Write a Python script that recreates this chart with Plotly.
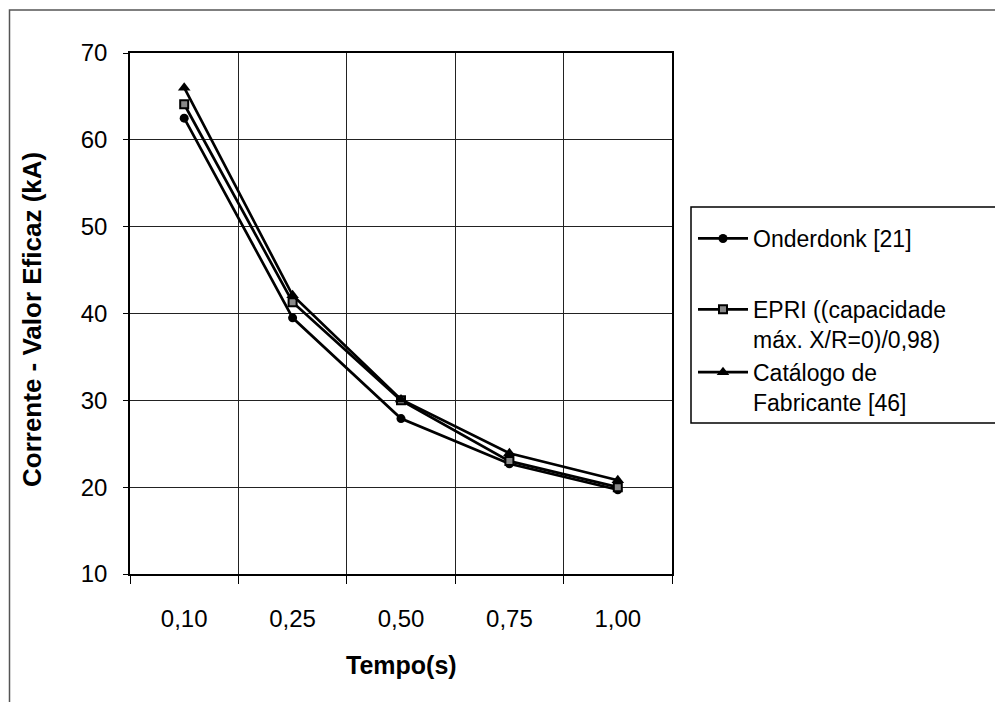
import plotly.graph_objects as go

categories = ["0,10", "0,25", "0,50", "0,75", "1,00"]
onderdonk = [62.5, 39.5, 27.9, 22.7, 19.7]
epri = [64.1, 41.3, 30.0, 23.0, 20.0]
catalogo = [66.0, 42.1, 30.1, 23.9, 20.8]

series_names = ["Onderdonk [21]", "EPRI ((capacidade<br>máx. X/R=0)/0,98)", "Catálogo de<br>Fabricante [46]"]

W, H = 995, 702
L, R, T, B = 130, 323, 53, 128
PW, PH = W - L - R, H - T - B

def px_x(x):
    return (x - L) / PW

def px_y(y):
    return 1 - (y - T) / PH

FONT = "Liberation Sans, Arial, sans-serif"

fig = go.Figure()
fig.add_trace(go.Scatter(
    x=categories, y=onderdonk, name=series_names[0], mode="lines+markers",
    line=dict(color="black", width=2.7),
    marker=dict(symbol="circle", size=9, color="black"),
    legendgroup="g1",
))
fig.add_trace(go.Scatter(
    x=categories, y=epri, name=series_names[1], mode="lines+markers",
    line=dict(color="black", width=2.7),
    marker=dict(symbol="square", size=8, color="#888888", line=dict(color="black", width=2)),
    legendgroup="g2",
))
fig.add_trace(go.Scatter(
    x=categories, y=catalogo, name=series_names[2], mode="lines+markers",
    line=dict(color="black", width=2.7),
    marker=dict(symbol="triangle-up", size=11, color="black"),
    legendgroup="g2",
))

fig.update_layout(
    width=W, height=H,
    margin=dict(l=L, r=R, t=T, b=B),
    paper_bgcolor="white", plot_bgcolor="white",
    font=dict(family=FONT, color="black", size=22),
    showlegend=True,
    legend=dict(
        x=px_x(693), y=px_y(217), xanchor="left", yanchor="top",
        font=dict(family=FONT, size=23, color="black"),
        bgcolor="rgba(0,0,0,0)", borderwidth=0,
        valign="top", itemwidth=50, tracegroupgap=38,
    ),
    xaxis=dict(
        type="category", range=[-0.5, 4.5],
        tickson="boundaries", ticks="outside", ticklen=8, tickcolor="black",
        showgrid=True, gridcolor="#222222", gridwidth=1,
        showline=True, linecolor="black", linewidth=1.5, mirror=True,
        tickfont=dict(size=24), ticklabelstandoff=22,
    ),
    yaxis=dict(
        range=[10, 70], dtick=10, tick0=10,
        ticks="outside", ticklen=5, tickcolor="black",
        showgrid=True, gridcolor="#222222", gridwidth=1,
        showline=True, linecolor="black", linewidth=1.5, mirror=True,
        tickfont=dict(size=24), ticklabelstandoff=11,
        zeroline=False,
    ),
    shapes=[
        dict(type="rect", xref="paper", yref="paper",
             x0=px_x(9.5), x1=px_x(1010), y0=px_y(720), y1=px_y(10),
             line=dict(color="#555555", width=1.5)),
        dict(type="rect", xref="paper", yref="paper",
             x0=px_x(691), x1=px_x(1010), y0=px_y(423), y1=px_y(207),
             line=dict(color="black", width=1.5)),
    ],
    annotations=[
        dict(text="<b>Corrente - Valor Eficaz (kA)</b>", xref="paper", yref="paper",
             x=px_x(32), y=px_y(320), textangle=-90, showarrow=False,
             font=dict(family=FONT, size=26, color="black"),
             xanchor="center", yanchor="middle"),
        dict(text="<b>Tempo(s)</b>", xref="paper", yref="paper",
             x=px_x(401), y=px_y(665), showarrow=False,
             font=dict(family=FONT, size=25, color="black"),
             xanchor="center", yanchor="middle"),
    ],
)

fig.write_html("out.html")
